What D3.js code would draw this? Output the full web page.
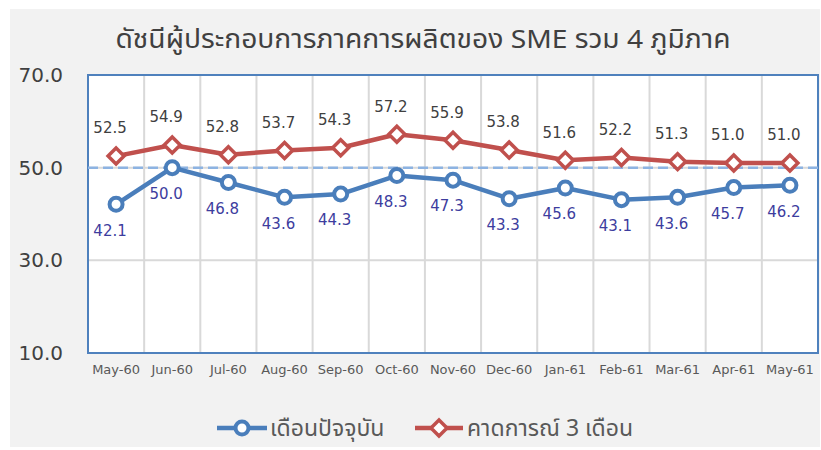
<!DOCTYPE html>
<html>
<head>
<meta charset="utf-8">
<script src="https://cdn.jsdelivr.net/npm/d3@7/dist/d3.min.js"></script>
<style>
  html, body { margin: 0; padding: 0; background: #ffffff; }
  svg { display: block; }
</style>
</head>
<body>
<svg id="chart" width="821" height="450"></svg>
<script>
const categories = ["May-60","Jun-60","Jul-60","Aug-60","Sep-60","Oct-60","Nov-60","Dec-60","Jan-61","Feb-61","Mar-61","Apr-61","May-61"];
const currentMonth = [42.1, 50.0, 46.8, 43.6, 44.3, 48.3, 47.3, 43.3, 45.6, 43.1, 43.6, 45.7, 46.2];
const forecast3M = [52.5, 54.9, 52.8, 53.7, 54.3, 57.2, 55.9, 53.8, 51.6, 52.2, 51.3, 51.0, 51.0];
const yTicks = [10, 30, 50, 70];
const referenceLine = 50;
const titleText = "ดัชนีผู้ประกอบการภาคการผลิตของ SME รวม 4 ภูมิภาค";
const seriesNames = ["เดือนปัจจุบัน", "คาดการณ์ 3 เดือน"];

const svg = d3.select("#chart");
const blue = "#4a7ebb", red = "#c0504d";
const numFont = "'DejaVu Sans', Verdana, sans-serif";
const thaiFont = "'Noto Sans', 'Noto Sans Thai', Tahoma, sans-serif";

// background panel
svg.append("rect").attr("x", 10).attr("y", 9).attr("width", 810).attr("height", 438).attr("fill", "#f2f2f2");

const plot = { left: 88, right: 818, top: 75, bottom: 353 };
const x = d3.scaleBand().domain(categories).range([plot.left, plot.right]).padding(0);
const y = d3.scaleLinear().domain([10, 70]).range([plot.bottom, plot.top]);
const cx = d => x(d) + x.bandwidth() / 2;

svg.append("rect").attr("x", plot.left).attr("y", plot.top)
  .attr("width", plot.right - plot.left).attr("height", plot.bottom - plot.top).attr("fill", "#ffffff");

// grid lines
const g = svg.append("g");
g.selectAll("line.hg").data(yTicks.filter(t => t > 10 && t < 70)).join("line")
  .attr("x1", plot.left).attr("x2", plot.right).attr("y1", d => y(d)).attr("y2", d => y(d))
  .attr("stroke", "#d9d9d9").attr("stroke-width", 2);
g.selectAll("line.vg").data(categories.slice(1)).join("line")
  .attr("x1", d => x(d)).attr("x2", d => x(d)).attr("y1", plot.top).attr("y2", plot.bottom)
  .attr("stroke", "#d9d9d9").attr("stroke-width", 2);

// y axis
const yAxis = d3.axisLeft(y).tickValues(yTicks).tickFormat(d3.format(".1f")).tickSize(0).tickPadding(25);
const ya = svg.append("g").attr("transform", `translate(${plot.left},0)`).call(yAxis);
ya.select(".domain").remove();
ya.selectAll("text").attr("font-family", numFont).attr("font-size", 20).attr("fill", "#404040");

// x axis
const xAxis = d3.axisBottom(x).tickSize(0).tickPadding(12);
const xa = svg.append("g").attr("transform", `translate(0,${plot.bottom})`).call(xAxis);
xa.select(".domain").remove();
xa.selectAll("text").attr("font-family", numFont).attr("font-size", 13).attr("fill", "#595959");

// plot border
svg.append("rect").attr("x", plot.left).attr("y", plot.top)
  .attr("width", plot.right - plot.left).attr("height", plot.bottom - plot.top)
  .attr("fill", "none").attr("stroke", "#4f81bd").attr("stroke-width", 2);

// reference dashed line
svg.append("line").attr("x1", plot.left).attr("x2", plot.right)
  .attr("y1", y(referenceLine)).attr("y2", y(referenceLine))
  .attr("stroke", "#8db3e2").attr("stroke-width", 2.5).attr("stroke-dasharray", "10,5");

const line = d3.line().x((d, i) => cx(categories[i])).y(d => y(d));

// forecast series (red, diamonds)
svg.append("path").datum(forecast3M).attr("d", line).attr("fill", "none")
  .attr("stroke", red).attr("stroke-width", 4.5).attr("stroke-linejoin", "round");
const diamond = s => `M0,${-s}L${s},0L0,${s}L${-s},0Z`;
svg.append("g").selectAll("path").data(forecast3M).join("path")
  .attr("transform", (d, i) => `translate(${cx(categories[i])},${y(d)})`)
  .attr("d", diamond(8)).attr("fill", "#fff").attr("stroke", red).attr("stroke-width", 3.5);

// current series (blue, circles)
svg.append("path").datum(currentMonth).attr("d", line).attr("fill", "none")
  .attr("stroke", blue).attr("stroke-width", 4.5).attr("stroke-linejoin", "round");
svg.append("g").selectAll("circle").data(currentMonth).join("circle")
  .attr("cx", (d, i) => cx(categories[i])).attr("cy", d => y(d)).attr("r", 6.5)
  .attr("fill", "#fff").attr("stroke", blue).attr("stroke-width", 4);

// data labels
svg.append("g").selectAll("text").data(forecast3M).join("text")
  .attr("x", (d, i) => cx(categories[i]) - 6).attr("y", d => y(d) - 28)
  .attr("dy", "0.35em").attr("text-anchor", "middle")
  .attr("font-family", numFont).attr("font-size", 15).attr("fill", "#404040")
  .text(d => d3.format(".1f")(d));
svg.append("g").selectAll("text").data(currentMonth).join("text")
  .attr("x", (d, i) => cx(categories[i]) - 6).attr("y", d => y(d) + 26)
  .attr("dy", "0.35em").attr("text-anchor", "middle")
  .attr("font-family", numFont).attr("font-size", 15).attr("fill", "#3d3d9e")
  .text(d => d3.format(".1f")(d));

// title
svg.append("text").attr("x", 423).attr("y", 48).attr("text-anchor", "middle")
  .attr("font-family", thaiFont).attr("font-size", 26).attr("fill", "#404040")
  .attr("textLength", 615).attr("lengthAdjust", "spacingAndGlyphs")
  .text(titleText);

// legend
const leg = svg.append("g");
leg.append("line").attr("x1", 217).attr("x2", 267).attr("y1", 428).attr("y2", 428)
  .attr("stroke", blue).attr("stroke-width", 4.5);
leg.append("circle").attr("cx", 242).attr("cy", 428).attr("r", 6.5)
  .attr("fill", "#fff").attr("stroke", blue).attr("stroke-width", 4);
leg.append("text").attr("x", 270).attr("y", 428).attr("dy", "0.35em")
  .attr("font-family", thaiFont).attr("font-size", 23).attr("fill", "#595959").text(seriesNames[0]);
leg.append("line").attr("x1", 415).attr("x2", 463).attr("y1", 428).attr("y2", 428)
  .attr("stroke", red).attr("stroke-width", 4.5);
leg.append("path").attr("transform", "translate(439,428)").attr("d", diamond(8))
  .attr("fill", "#fff").attr("stroke", red).attr("stroke-width", 3.5);
leg.append("text").attr("x", 467).attr("y", 428).attr("dy", "0.35em")
  .attr("font-family", thaiFont).attr("font-size", 23).attr("fill", "#595959").text(seriesNames[1]);
</script>
</body>
</html>
